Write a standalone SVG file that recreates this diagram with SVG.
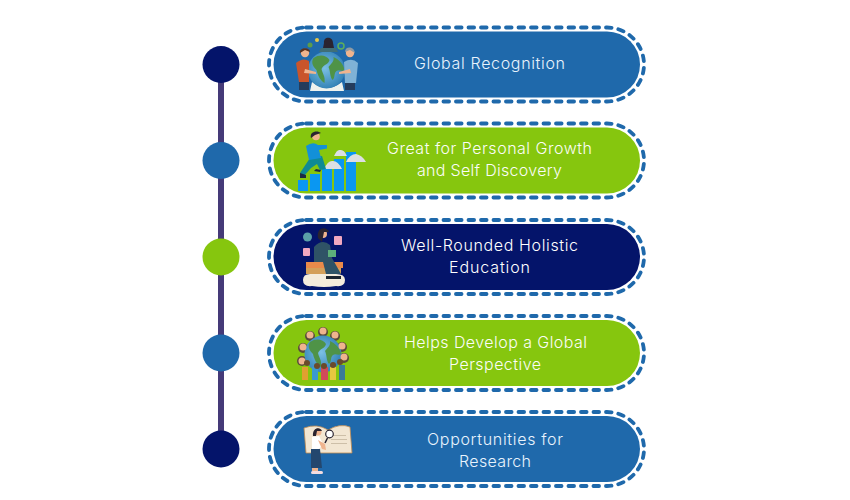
<svg xmlns="http://www.w3.org/2000/svg" width="850" height="500" viewBox="0 0 850 500">
<style>
text{font-family:"Inter","Open Sans","Liberation Sans",sans-serif;font-size:16px;font-weight:300;fill:#fbfdf6;text-anchor:middle}
.blue text{fill:#e8f3fd}
.navy text{fill:#ffffff}
.pill{stroke:none}
.ring{fill:none;stroke:#1f69ab;stroke-width:3.800;stroke-dasharray:5.600 6.900;stroke-linecap:round}
.dot{stroke:none}
.line{stroke:#453a78;stroke-width:6;fill:none}
.skin{fill:#efb48e}
.hair{fill:#2a2430}
.gl{fill:url(#sea)}
.ld{fill:#4f9347}
.bar{fill:#0a97f2}
.cl{fill:#dcdfe3}
</style>
<defs>
<radialGradient id="sea" cx="0.45" cy="0.45" r="0.6"><stop offset="0" stop-color="#7cc0e4"/><stop offset="1" stop-color="#2f7fb4"/></radialGradient>
<g id="globe"><circle r="18.500" class="gl"/><path class="ld" d="M-13-12C-7-16 0-15 3-10C2-5-3-6-5-1C-4 4-1 6-2 13C-6 11-9 5-10 0C-13-3-16-7-13-12Z"/><path class="ld" d="M7-13C12-11 17-6 18 0C15 2 13-1 10 1C7 3 9 8 6 10C3 6 4 1 2-3C4-6 8-8 7-13Z"/></g>
</defs>
<g id="connectors"><path class="line" d="M221 64V449"/></g>

<g id="dot-1"><circle class="dot" cx="221" cy="64.500" r="18.500" fill="#04146a"/></g>
<g id="dot-2"><circle class="dot" cx="221" cy="160.500" r="18.500" fill="#1f69ab"/></g>
<g id="dot-3"><circle class="dot" cx="221" cy="257" r="18.500" fill="#86c60e"/></g>
<g id="dot-4"><circle class="dot" cx="221" cy="353" r="18.500" fill="#1f69ab"/></g>
<g id="dot-5"><circle class="dot" cx="221" cy="449" r="18.500" fill="#04146a"/></g>

<g id="node-1" class="blue">
<rect class="ring" x="269" y="27.500" width="375" height="74" rx="37"/>
<rect class="pill" x="273.500" y="31.500" width="366.500" height="66" rx="33" fill="#1f69ab"/>
<path fill="#eef2ee" d="M312 82Q327 94 342 82L344 91H310Z"/>
<use href="#globe" x="326.500" y="70"/>
<circle class="skin" cx="305" cy="53" r="4.200"/><path fill="#5a3320" d="M300 53C299 47 310 47 310 52L305 50Z"/>
<path fill="#c9552b" d="M296 63Q303 57 309 61L309 82H299Z"/><rect x="299" y="82" width="10" height="8" fill="#243c5c"/>
<path class="skin" d="M305 69L316 72V74L304 73Z"/>
<circle class="skin" cx="350" cy="53" r="4.200"/><path fill="#8e9aa3" d="M345 52C345 46 354 46 355 53L350 50Z"/>
<path fill="#7fb2d6" d="M344 62Q352 57 358 63L356 83H345Z"/><rect x="345" y="83" width="10" height="7" fill="#243c5c"/>
<path class="skin" d="M350 69L339 72V74L351 73Z"/>
<circle class="skin" cx="328" cy="42" r="3.500"/><path class="hair" d="M324 43C323 36 333 36 333 43L334 48H323Z"/>
<path fill="#3f6f78" d="M321 48H336L338 52H319Z"/>
<circle cx="317" cy="40" r="2" fill="#e6c84a"/><circle cx="310" cy="45" r="2.500" fill="#5d9c4b"/><circle cx="341" cy="46" r="3" fill="none" stroke="#5dae5b" stroke-width="1.500"/>
<text x="489.500" y="69" textLength="151" lengthAdjust="spacing">Global Recognition</text>
</g>

<g id="node-2" class="green">
<rect class="ring" x="269" y="123.500" width="375" height="74" rx="37"/>
<rect class="pill" x="273.500" y="127.500" width="366.500" height="66" rx="33" fill="#86c60e"/>
<rect class="bar" x="298" y="180" width="10" height="11"/><rect class="bar" x="310" y="174" width="10" height="17"/><rect class="bar" x="322" y="168" width="10" height="23"/><rect class="bar" x="334" y="159" width="10" height="32"/><rect class="bar" x="346" y="152" width="10" height="39"/>
<path class="cl" d="M334 156Q337 149 340 150Q344 149 347 156Z"/><path class="cl" d="M324 169Q328 160 333 161Q338 161 342 169Z"/><path class="cl" d="M346 162Q350 154 356 154Q362 155 366 162Z"/>
<path fill="#0f8a94" d="M310 158L322 156L326 169L320 170L317 164L311 168L304 176L300 173Z"/>
<path fill="#1a2a44" d="M300 173L306 175V178H300ZM316 169L321 170L320 172L314 171Z"/>
<path fill="#1390d8" d="M306 146Q313 141 318 145L327 145V148.500L319 150L321 158L309 160Z"/>
<circle class="skin" cx="316" cy="136.500" r="3.800"/><path class="hair" d="M311 138C309 131 318 130 321 133L315 135Z"/>
<text x="489.500" y="154" textLength="205" lengthAdjust="spacing">Great for Personal Growth</text>
<text x="489.500" y="176" textLength="145" lengthAdjust="spacing">and Self Discovery</text>
</g>

<g id="node-3" class="navy">
<rect class="ring" x="269" y="220" width="375" height="74" rx="37"/>
<rect class="pill" x="273.500" y="224" width="366.500" height="66" rx="33" fill="#04146a"/>
<path fill="#f4ecdc" d="M303 280Q303 274 310 274H336Q345 274 345 280Q345 287 336 286Q324 288 312 286Q303 287 303 280Z"/>
<rect x="306" y="262" width="37" height="6" fill="#e98a4a"/><rect x="306" y="268" width="35" height="6" fill="#d4a05a"/>
<path fill="#2f5366" d="M314 247Q322 238 330 245L332 258L341 274H326L323 262H314Z"/>
<circle class="skin" cx="323" cy="234" r="4"/><path class="hair" d="M318 238C316 227 327 226 329 232L324 232L322 242Z"/>
<rect x="328" y="250" width="8" height="7" fill="#5dae7b"/><rect x="326" y="276" width="15" height="3" fill="#1d2530"/>
<circle cx="307.500" cy="237" r="4.500" fill="#5aa0a8"/>
<rect x="334" y="236" width="8" height="9" rx="1" fill="#f0a8c0"/><rect x="303" y="248" width="7" height="8" rx="1" fill="#f0a8c0"/>
<text x="489.500" y="251" textLength="177" lengthAdjust="spacing">Well-Rounded Holistic</text>
<text x="489.500" y="273" textLength="81" lengthAdjust="spacing">Education</text>
</g>

<g id="node-4" class="green">
<rect class="ring" x="269" y="316" width="375" height="74" rx="37"/>
<rect class="pill" x="273.500" y="320" width="366.500" height="66" rx="33" fill="#86c60e"/>
<g fill="#5a4a3a"><circle cx="323" cy="332" r="5"/><circle cx="310" cy="336" r="5"/><circle cx="335" cy="336" r="5"/><circle cx="303" cy="348" r="5"/><circle cx="342" cy="347" r="5"/><circle cx="344" cy="358" r="5"/><circle cx="302" cy="361" r="5"/></g>
<use href="#globe" x="323" y="354"/>
<g class="skin"><circle cx="323" cy="331" r="3.500"/><circle cx="310" cy="335" r="3.500"/><circle cx="335" cy="335" r="3.500"/><circle cx="303" cy="347" r="3.500"/><circle cx="342" cy="346" r="3.500"/><circle cx="344" cy="357" r="3.500"/><circle cx="302" cy="361" r="3.500"/></g>
<rect x="302" y="367" width="6" height="13" fill="#e0a030"/><rect x="312" y="367" width="6" height="13" fill="#3a9ad0"/><rect x="321" y="367" width="7" height="13" fill="#d04a5a"/><rect x="330" y="367" width="6" height="13" fill="#e8c840"/><rect x="339" y="365" width="6" height="15" fill="#3a7a9a"/>
<g fill="#6b4a2a"><circle cx="307" cy="363" r="3"/><circle cx="317" cy="366" r="3"/><circle cx="324" cy="366" r="3"/><circle cx="333" cy="365" r="3"/><circle cx="340" cy="362" r="3"/></g>
<text x="495.500" y="348" textLength="183" lengthAdjust="spacing">Helps Develop a Global</text>
<text x="495" y="370" textLength="92" lengthAdjust="spacing">Perspective</text>
</g>

<g id="node-5" class="blue">
<rect class="ring" x="269" y="412" width="375" height="74" rx="37"/>
<rect class="pill" x="273.500" y="416" width="366.500" height="66" rx="33" fill="#1f69ab"/>
<path fill="#f2e6d2" stroke="#c08a50" stroke-width="0.800" d="M304 428Q317 423 328 430Q340 423 350 427L352 453H328H306Z"/>
<path fill="#cdbfa8" d="M331 435H346V436H331ZM331 439H347V440H331ZM331 443H347V444H331Z"/>
<path fill="#fff" d="M312 437L319 436L323 444L319 449H312Z"/>
<path class="skin" d="M318 440L325 444L326 450L322 449Z"/>
<path fill="#24476e" d="M311 449H320L322 468H311Z"/>
<rect x="312" y="468" width="6" height="3" class="skin"/><rect x="311" y="471" width="12" height="3" rx="1.500" fill="#f3dce0"/>
<circle class="skin" cx="318" cy="432" r="3.500"/><path class="hair" d="M313 436C312 428 320 426 322 431L317 431L316 436Z"/>
<circle cx="329.500" cy="434" r="3.800" fill="#fff" stroke="#2a2430" stroke-width="1.200"/><path stroke="#2a2430" stroke-width="1.500" d="M327.500 438L325 443"/>
<text x="495" y="445" textLength="136" lengthAdjust="spacing">Opportunities for</text>
<text x="495" y="467" textLength="72" lengthAdjust="spacing">Research</text>
</g>
</svg>
